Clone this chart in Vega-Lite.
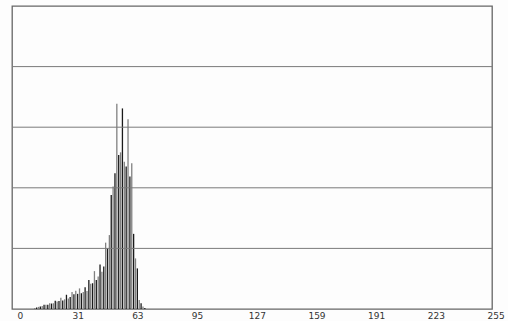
{
  "$schema": "https://vega.github.io/schema/vega-lite/v6.json",
  "width": 480,
  "height": 303,
  "autosize": "none",
  "padding": {"left": 12, "top": 6, "right": 16, "bottom": 12},
  "background": "#fdfdfd",
  "config": {
    "view": {"stroke": "#666666", "strokeWidth": 1.3}
  },
  "datasets": {
    "grid": [{"level": 20}, {"level": 40}, {"level": 60}, {"level": 80}],
    "hist": [
      {"bin": 8, "count": 0.3}, {"bin": 9, "count": 0.5}, {"bin": 10, "count": 0.7},
      {"bin": 11, "count": 0.8}, {"bin": 12, "count": 1.0}, {"bin": 13, "count": 1.4},
      {"bin": 14, "count": 1.4}, {"bin": 15, "count": 1.4}, {"bin": 16, "count": 1.9},
      {"bin": 17, "count": 1.8}, {"bin": 18, "count": 1.9}, {"bin": 19, "count": 2.7},
      {"bin": 20, "count": 2.5}, {"bin": 21, "count": 2.6}, {"bin": 22, "count": 3.7},
      {"bin": 23, "count": 2.8}, {"bin": 24, "count": 3.2}, {"bin": 25, "count": 4.7},
      {"bin": 26, "count": 3.5}, {"bin": 27, "count": 4.0}, {"bin": 28, "count": 5.6},
      {"bin": 29, "count": 4.9}, {"bin": 30, "count": 6.0}, {"bin": 31, "count": 5.0},
      {"bin": 32, "count": 6.8}, {"bin": 33, "count": 5.2}, {"bin": 34, "count": 5.6},
      {"bin": 35, "count": 7.2}, {"bin": 36, "count": 5.9}, {"bin": 37, "count": 9.6},
      {"bin": 38, "count": 8.3}, {"bin": 39, "count": 8.5}, {"bin": 40, "count": 12.5},
      {"bin": 41, "count": 9.6}, {"bin": 42, "count": 10.7}, {"bin": 43, "count": 14.7},
      {"bin": 44, "count": 12.3}, {"bin": 45, "count": 14.0}, {"bin": 46, "count": 21.9},
      {"bin": 47, "count": 20.0}, {"bin": 48, "count": 24.4}, {"bin": 49, "count": 37.6},
      {"bin": 50, "count": 40.4}, {"bin": 51, "count": 44.8}, {"bin": 52, "count": 67.7},
      {"bin": 53, "count": 50.8}, {"bin": 54, "count": 51.7}, {"bin": 55, "count": 66.2},
      {"bin": 56, "count": 48.6}, {"bin": 57, "count": 47.0}, {"bin": 58, "count": 62.6},
      {"bin": 59, "count": 43.7}, {"bin": 60, "count": 48.1}, {"bin": 61, "count": 24.8},
      {"bin": 62, "count": 16.7}, {"bin": 63, "count": 13.4}, {"bin": 64, "count": 3.0},
      {"bin": 65, "count": 1.9}, {"bin": 66, "count": 0.8}, {"bin": 67, "count": 0.3}
    ]
  },
  "layer": [
    {
      "data": {"name": "hist"},
      "mark": {"type": "bar", "width": 1.3},
      "encoding": {
        "x": {
          "field": "bin",
          "type": "quantitative",
          "scale": {"domain": [-1.5, 256], "range": [0, 490.5], "nice": false, "zero": false},
          "axis": {
            "title": null,
            "values": [0, 31, 63, 95, 127, 159, 191, 223, 255],
            "grid": false,
            "ticks": false,
            "domain": false,
            "labelPadding": 2,
            "labelFont": "DejaVu Sans",
            "labelFontSize": 9,
            "labelColor": "#333333",
            "labelFlush": false,
            "labelOverlap": false
          }
        },
        "y": {
          "field": "count",
          "type": "quantitative",
          "scale": {"domain": [0, 100], "nice": false},
          "axis": null
        },
        "color": {
          "condition": {"test": "datum.bin % 2 == 1", "value": "#1a1a1a"},
          "value": "#808080"
        }
      }
    },
    {
      "data": {"name": "grid"},
      "mark": {"type": "rule", "color": "#7a7a7a", "strokeWidth": 1},
      "encoding": {
        "y": {"field": "level", "type": "quantitative", "axis": null}
      }
    }
  ]
}
